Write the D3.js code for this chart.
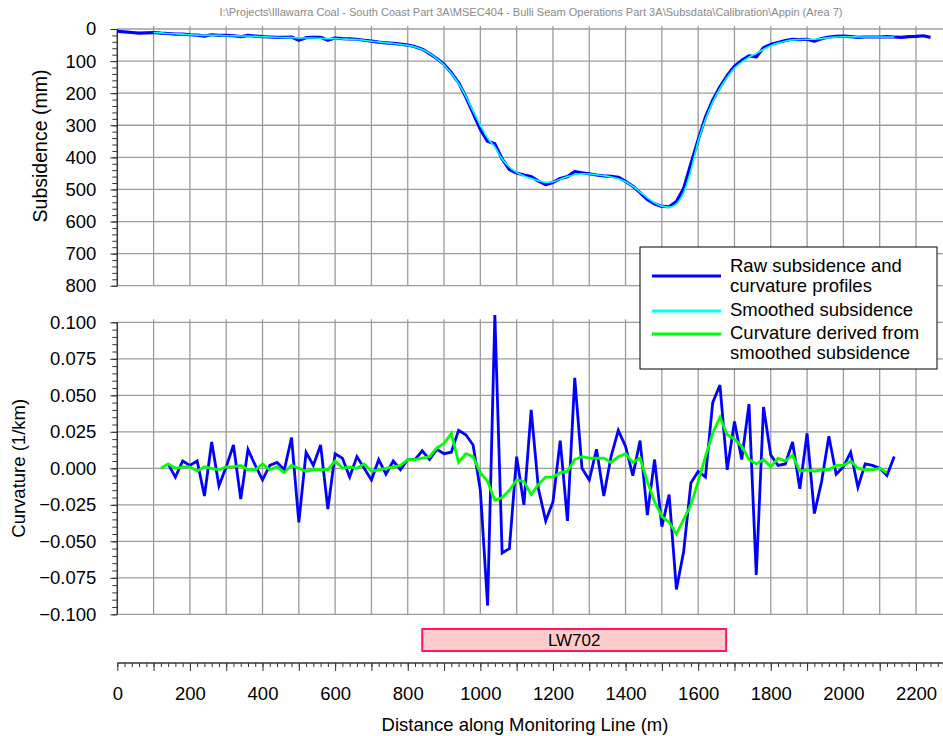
<!DOCTYPE html>
<html>
<head>
<meta charset="utf-8">
<script src="https://d3js.org/d3.v7.min.js"></script>
<style>
    body { margin: 0; background: #fff; }
    svg { display: block; font-family: "Liberation Sans", Arial, sans-serif; }
</style>
</head>
<body>
<svg id="chart"></svg>
<script>

// Variables
var width = 943;
var height = 736;
var fileTitle = "I:\\Projects\\Illawarra Coal - South Coast Part 3A\\MSEC404 - Bulli Seam Operations Part 3A\\Subsdata\\Calibration\\Appin (Area 7)";

// Tick labels
var distTicks = [0, 200, 400, 600, 800, 1000, 1200, 1400, 1600, 1800, 2000, 2200];
var subsTicks = [0, 100, 200, 300, 400, 500, 600, 700, 800];
var curvTicks = [0.1, 0.075, 0.05, 0.025, 0, -0.025, -0.05, -0.075, -0.1];

// Raw subsidence (mm) every 20 m along the line
var subsDist = [0, 20, 40, 60, 80, 100, 120, 140, 160, 180,
    200, 220, 240, 260, 280, 300, 320, 340, 360, 380,
    400, 420, 440, 460, 480, 500, 520, 540, 560, 580,
    600, 620, 640, 660, 680, 700, 720, 740, 760, 780,
    800, 820, 840, 860, 880, 900, 920, 940, 960, 980,
    1000, 1020, 1040, 1060, 1080, 1100, 1120, 1140, 1160, 1180,
    1200, 1220, 1240, 1260, 1280, 1300, 1320, 1340, 1360, 1380,
    1400, 1420, 1440, 1460, 1480, 1500, 1520, 1540, 1560, 1580,
    1600, 1620, 1640, 1660, 1680, 1700, 1720, 1740, 1760, 1780,
    1800, 1820, 1840, 1860, 1880, 1900, 1920, 1940, 1960, 1980,
    2000, 2020, 2040, 2060, 2080, 2100, 2120, 2140, 2160, 2180,
    2200, 2220, 2240];
var subsRaw = [7, 9, 11, 13, 12, 11, 13, 14, 16, 16,
    18, 19, 22, 18, 20, 20, 21, 24, 20, 22,
    24, 25, 26, 26, 25, 35, 27, 26, 26, 35,
    28, 30, 31, 32, 35, 38, 41, 43, 45, 47,
    50, 55, 63, 77, 92, 110, 136, 167, 212, 262,
    313, 350, 358, 405, 438, 449, 455, 460, 474, 485,
    478, 466, 460, 444, 448, 451, 455, 458, 459, 462,
    475, 490, 510, 532, 545, 553, 554, 538, 497, 420,
    345, 275, 222, 180, 145, 116, 98, 84, 87, 58,
    48, 42, 36, 32, 33, 32, 38, 30, 25, 23,
    22, 24, 26, 25, 25, 25, 24, 25, 26, 24,
    23, 21, 26];

// Smoothed subsidence (mm)
var smoothDist = [100, 120, 140, 160, 180, 200, 220, 240, 260, 280,
    300, 320, 340, 360, 380, 400, 420, 440, 460, 480,
    500, 520, 540, 560, 580, 600, 620, 640, 660, 680,
    700, 720, 740, 760, 780, 800, 820, 840, 860, 880,
    900, 920, 940, 960, 980, 1000, 1020, 1040, 1060, 1080,
    1100, 1120, 1140, 1160, 1180, 1200, 1220, 1240, 1260, 1280,
    1300, 1320, 1340, 1360, 1380, 1400, 1420, 1440, 1460, 1480,
    1500, 1520, 1540, 1560, 1580, 1600, 1620, 1640, 1660, 1680,
    1700, 1720, 1740, 1760, 1780, 1800, 1820, 1840, 1860, 1880,
    1900, 1920, 1940, 1960, 1980, 2000, 2020, 2040, 2060, 2080,
    2100, 2120, 2140];
var subsSmooth = [11, 12, 14, 15, 16, 18, 19, 20, 20, 20,
    21, 21, 22, 22, 23, 24, 25, 26, 27, 27,
    28, 28, 28, 29, 30, 30, 31, 32, 33, 35,
    38, 40, 43, 45, 48, 51, 56, 64, 76, 92,
    112, 138, 170, 210, 256, 300, 340, 368, 405, 430,
    447, 458, 466, 473, 478, 476, 468, 460, 454, 451,
    452, 454, 457, 461, 467, 476, 490, 508, 526, 542,
    552, 555, 545, 510, 440, 350, 282, 228, 185, 150,
    122, 103, 88, 76, 63, 52, 44, 38, 34, 33,
    32, 32, 30, 27, 25, 24, 24, 25, 25, 25,
    25, 25, 25];

// Raw curvature (1/km)
var curvDist = [140, 160, 180, 200, 220, 240, 260, 280, 300, 320,
    340, 360, 380, 400, 420, 440, 460, 480, 500, 520,
    540, 560, 580, 600, 620, 640, 660, 680, 700, 720,
    740, 760, 780, 800, 820, 840, 860, 880, 900, 920,
    940, 960, 980, 1000, 1020, 1040, 1060, 1080, 1100, 1120,
    1140, 1160, 1180, 1200, 1220, 1240, 1260, 1280, 1300, 1320,
    1340, 1360, 1380, 1400, 1420, 1440, 1460, 1480, 1500, 1520,
    1540, 1560, 1580, 1600, 1620, 1640, 1660, 1680, 1700, 1720,
    1740, 1760, 1780, 1800, 1820, 1840, 1860, 1880, 1900, 1920,
    1940, 1960, 1980, 2000, 2020, 2040, 2060, 2080, 2100, 2120,
    2140];
var curvRaw = [0.003, -0.006, 0.005, 0.002, 0.005, -0.019, 0.018, -0.012, 0.001, 0.016,
    -0.021, 0.013, 0.002, -0.008, 0.002, 0.004, -0.001, 0.021, -0.037, 0.011,
    0.002, 0.016, -0.028, 0.010, 0.007, -0.006, 0.008, 0.000, -0.008, 0.006,
    -0.004, 0.005, -0.001, 0.006, 0.006, 0.012, 0.006, 0.013, 0.010, 0.011,
    0.026, 0.023, 0.016, -0.015, -0.094, 0.105, -0.058, -0.055, 0.008, -0.025,
    0.040, -0.014, -0.036, -0.023, 0.019, -0.036, 0.062, 0.000, -0.008, 0.013,
    -0.019, 0.008, 0.026, 0.015, -0.005, 0.019, -0.032, 0.006, -0.040, -0.018,
    -0.083, -0.057, -0.010, -0.002, -0.006, 0.045, 0.057, -0.001, 0.032, 0.006,
    0.044, -0.073, 0.042, 0.009, 0.002, 0.003, 0.018, -0.014, 0.024, -0.031,
    -0.009, 0.022, -0.004, 0.001, 0.011, -0.013, 0.003, 0.002, 0.000, -0.005,
    0.008];

// Curvature derived from smoothed subsidence (1/km)
var curvSmoothDist = [120, 140, 160, 180, 200, 220, 240, 260, 280, 300,
    320, 340, 360, 380, 400, 420, 440, 460, 480, 500,
    520, 540, 560, 580, 600, 620, 640, 660, 680, 700,
    720, 740, 760, 780, 800, 820, 840, 860, 880, 900,
    920, 940, 960, 980, 1000, 1020, 1040, 1060, 1080, 1100,
    1120, 1140, 1160, 1180, 1200, 1220, 1240, 1260, 1280, 1300,
    1320, 1340, 1360, 1380, 1400, 1420, 1440, 1460, 1480, 1500,
    1520, 1540, 1560, 1580, 1600, 1620, 1640, 1660, 1680, 1700,
    1720, 1740, 1760, 1780, 1800, 1820, 1840, 1860, 1880, 1900,
    1920, 1940, 1960, 1980, 2000, 2020, 2040, 2060, 2080, 2100,
    2120];
var curvSmooth = [0, 0.003, 0.000, 0.001, 0.001, -0.002, 0.001, 0.000, -0.001, 0.001,
    0.001, 0.002, -0.001, -0.001, 0.003, -0.001, 0.001, -0.003, 0.002, 0.000,
    -0.002, -0.001, -0.001, -0.001, 0.005, 0.000, 0.001, 0.000, 0.003, -0.002,
    -0.001, 0.000, 0.001, 0.002, 0.006, 0.006, 0.007, 0.008, 0.014, 0.017,
    0.024, 0.004, 0.010, 0.008, -0.003, -0.009, -0.022, -0.020, -0.015, -0.008,
    -0.009, -0.018, -0.011, -0.006, -0.006, -0.003, -0.002, 0.006, 0.008, 0.007,
    0.007, 0.007, 0.004, 0.008, 0.010, 0.004, 0.007, -0.009, -0.023, -0.033,
    -0.037, -0.045, -0.035, -0.025, -0.009, 0.008, 0.024, 0.035, 0.023, 0.020,
    0.015, 0.006, 0.003, 0.006, 0.001, 0.007, 0.005, 0.009, -0.002, -0.001,
    -0.002, -0.001, -0.001, 0.002, 0.002, 0.005, 0.000, -0.001, -0.001, 0.000,
    -0.003];

// Panel extent (longwall)
var panelName = "LW702";
var panelStart = 840;
var panelEnd = 1677;

// Legend entries
var legendItems = [
    { lines: ["Raw subsidence and", "curvature profiles"], color: "#0000ff" },
    { lines: ["Smoothed subsidence"], color: "#00ffff" },
    { lines: ["Curvature derived from", "smoothed subsidence"], color: "#00ff00" }
];

// Layout
var plotLeft = 117.3;
var plotRight = 943;
var subsTop = 29, subsBottom = 285.7;
var curvTop = 322.3, curvBottom = 614.3;
var rulerY = 663;
var fontSize = "18.5px";

var x = d3.scaleLinear().domain([0, 2200]).range([plotLeft, 916]);
var ySubs = d3.scaleLinear().domain([0, 800]).range([subsTop, subsBottom]);
var yCurv = d3.scaleLinear().domain([0.1, -0.1]).range([curvTop, curvBottom]);
var xMax = x.invert(plotRight);

var svg = d3.select("#chart").attr("width", width).attr("height", height);

// File path header
svg.append("text")
    .attr("x", 531).attr("y", 16)
    .attr("text-anchor", "middle")
    .attr("textLength", 623).attr("lengthAdjust", "spacingAndGlyphs")
    .style("font-size", "11px").style("fill", "#8a8a8a")
    .text(fileTitle);

/**
 * Draw the grid and the left axis of one panel
 */
function drawPanel(y, top, bottom, majors, minorStep, fmt) {
    var g = svg.append("g");
    var lo = d3.min(y.domain()), hi = d3.max(y.domain());

    // vertical grid every 100 m
    g.selectAll("line.vgrid").data(d3.range(100, xMax, 100)).enter().append("line")
        .attr("class", "vgrid")
        .attr("x1", function (d) { return x(d); }).attr("x2", function (d) { return x(d); })
        .attr("y1", top - 3).attr("y2", bottom)
        .style("stroke", "#9c9c9c").style("stroke-width", 1.3);

    // horizontal grid on the major ticks
    g.selectAll("line.hgrid").data(majors).enter().append("line")
        .attr("class", "hgrid")
        .attr("x1", plotLeft).attr("x2", plotRight)
        .attr("y1", function (d) { return y(d); }).attr("y2", function (d) { return y(d); })
        .style("stroke", "#9c9c9c").style("stroke-width", 1.3);

    // minor ticks
    var minors = d3.range(0, Math.round((hi - lo) / minorStep) + 1).map(function (i) { return lo + i * minorStep; });
    g.append("g").attr("transform", "translate(" + plotLeft + ",0)")
        .call(d3.axisLeft(y).tickValues(minors).tickSize(5).tickSizeOuter(0).tickFormat(""))
        .call(function (a) { a.select(".domain").remove(); });

    // major ticks and labels
    var ax = g.append("g").attr("transform", "translate(" + plotLeft + ",0)")
        .call(d3.axisLeft(y).tickValues(majors).tickSize(7).tickSizeOuter(0).tickPadding(14).tickFormat(fmt));
    ax.select(".domain").remove();
    ax.selectAll("text").style("font-size", fontSize).style("fill", "#000")
        .style("font-family", "'Liberation Sans', Arial, sans-serif");
    g.selectAll("g.tick line").style("stroke", "#333");

    // axis line
    g.append("line")
        .attr("x1", plotLeft).attr("x2", plotLeft)
        .attr("y1", top).attr("y2", bottom)
        .style("stroke", "#333").style("stroke-width", 1.5);
}

drawPanel(ySubs, subsTop, subsBottom, subsTicks, 20, d3.format("d"));
drawPanel(yCurv, curvTop, curvBottom, curvTicks, 0.005, d3.format(".3f"));

// Axis titles
svg.append("text")
    .attr("transform", "translate(47,146)rotate(-90)")
    .attr("text-anchor", "middle").style("font-size", "19.5px")
    .text("Subsidence (mm)");
svg.append("text")
    .attr("transform", "translate(25," + ((curvTop + curvBottom) / 2) + ")rotate(-90)")
    .attr("text-anchor", "middle").style("font-size", fontSize)
    .text("Curvature (1/km)");

// Subsidence lines
var subsLine = d3.line()
    .x(function (d) { return x(d[0]); })
    .y(function (d) { return ySubs(d[1]); });
svg.append("path")
    .datum(d3.zip(subsDist, subsRaw))
    .attr("d", subsLine)
    .style("fill", "none").style("stroke", "#0000ff").style("stroke-width", 3.2)
    .style("stroke-linejoin", "round");
svg.append("path")
    .datum(d3.zip(smoothDist, subsSmooth))
    .attr("d", subsLine.curve(d3.curveMonotoneX))
    .style("fill", "none").style("stroke", "#00ffff").style("stroke-width", 1.6);

// Curvature lines
var curvLine = d3.line()
    .x(function (d) { return x(d[0]); })
    .y(function (d) { return yCurv(d[1]); });
svg.append("path")
    .datum(d3.zip(curvDist, curvRaw))
    .attr("d", curvLine)
    .style("fill", "none").style("stroke", "#0000ff").style("stroke-width", 2.8);
svg.append("path")
    .datum(d3.zip(curvSmoothDist, curvSmooth))
    .attr("d", curvLine)
    .style("fill", "none").style("stroke", "#00ff00").style("stroke-width", 2.8);

// Legend
var legend = svg.append("g").attr("transform", "translate(640,247)");
legend.append("rect")
    .attr("width", 297).attr("height", 122)
    .style("fill", "#fff").style("stroke", "#000").style("stroke-width", 1);
var rowY = [29, 64, 87];
var textY = [25, 69, 92];
legendItems.forEach(function (item, i) {
    legend.append("line")
        .attr("x1", 12).attr("x2", 81)
        .attr("y1", rowY[i]).attr("y2", rowY[i])
        .style("stroke", item.color).style("stroke-width", 3.2);
    var t = legend.append("text").attr("x", 90).style("font-size", fontSize);
    item.lines.forEach(function (s, j) {
        t.append("tspan").attr("x", 90).attr("y", textY[i] + j * 20).text(s);
    });
});

// Longwall panel bar
svg.append("rect")
    .attr("x", x(panelStart)).attr("y", 629)
    .attr("width", x(panelEnd) - x(panelStart)).attr("height", 22)
    .style("fill", "#ffcccc").style("stroke", "#ff1466").style("stroke-width", 2);
svg.append("text")
    .attr("x", (x(panelStart) + x(panelEnd)) / 2).attr("y", 646)
    .attr("text-anchor", "middle").style("font-size", "17px")
    .text(panelName);

// Distance ruler
var ruler = svg.append("g").attr("transform", "translate(0," + rulerY + ")");
ruler.append("g")
    .call(d3.axisBottom(x).tickValues(d3.range(0, xMax, 20)).tickSize(4).tickSizeOuter(0).tickFormat(""))
    .call(function (a) { a.select(".domain").remove(); });
var major = ruler.append("g")
    .call(d3.axisBottom(x).tickValues(d3.range(0, xMax, 100)).tickSize(8).tickSizeOuter(0).tickPadding(16)
        .tickFormat(function (d) { return distTicks.indexOf(d) >= 0 ? d : ""; }));
major.select(".domain").remove();
major.selectAll("text").style("font-size", fontSize).style("fill", "#000")
    .style("font-family", "'Liberation Sans', Arial, sans-serif");
ruler.selectAll("line").style("stroke", "#333");
ruler.append("line")
    .attr("x1", plotLeft).attr("x2", plotRight)
    .style("stroke", "#333").style("stroke-width", 1.5);

svg.append("text")
    .attr("x", 525).attr("y", 731)
    .attr("text-anchor", "middle").style("font-size", fontSize)
    .text("Distance along Monitoring Line (m)");

</script>
</body>
</html>
